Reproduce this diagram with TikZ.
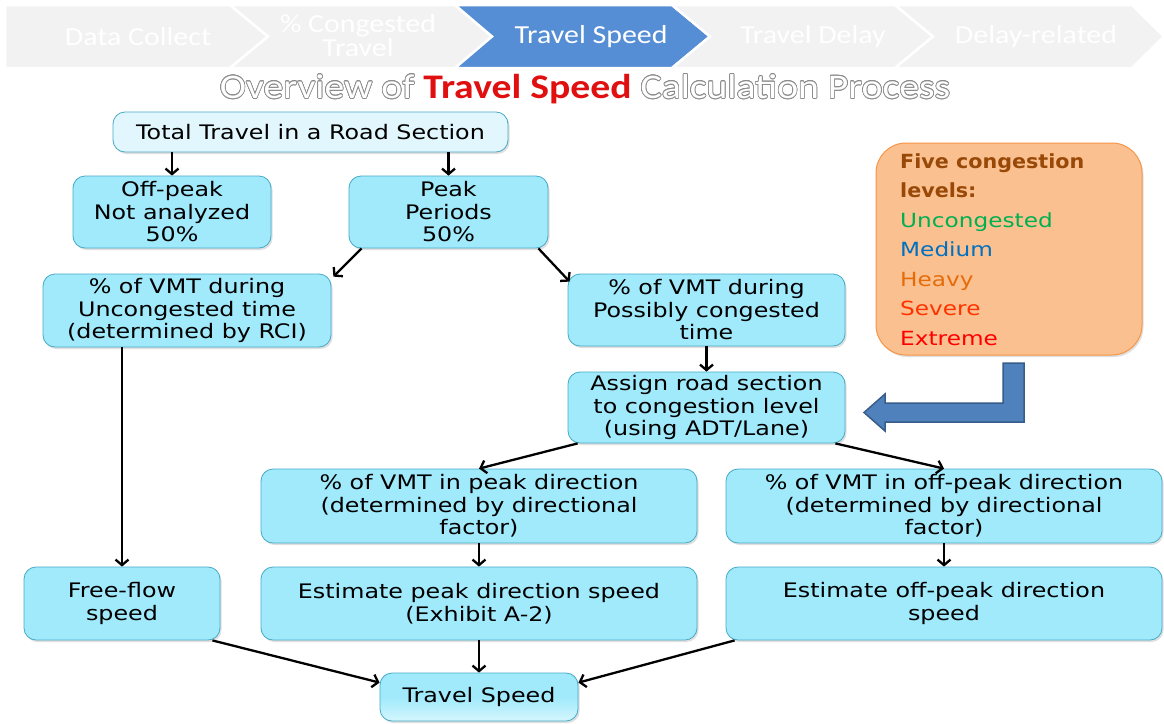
\documentclass[tikz,border=0pt]{standalone}
\usepackage{fontspec}
\setmainfont[FakeStretch=1.19,BoldFeatures={FakeStretch=1.06}]{DejaVu Sans}
\newfontfamily\carlito[FakeStretch=1.15]{Carlito}
\usepackage{contour}
\contourlength{0.7pt}
\usetikzlibrary{arrows.meta,shadows,positioning,calc}
\definecolor{cyanfill}{HTML}{A0EAFC}
\definecolor{cyanline}{HTML}{46AAC5}
\definecolor{topfill}{HTML}{E2F7FD}
\definecolor{orfill}{HTML}{FAC090}
\definecolor{orline}{HTML}{F79646}
\definecolor{bannergrey}{HTML}{F2F2F2}
\definecolor{bannerblue}{HTML}{558ED5}
\definecolor{blockblue}{HTML}{4F81BD}
\definecolor{blockline}{HTML}{385D8A}
\definecolor{brownt}{HTML}{984807}
\definecolor{greent}{HTML}{00B050}
\definecolor{bluet}{HTML}{0070C0}
\definecolor{oranget}{HTML}{E46C0A}
\definecolor{severet}{HTML}{FF3300}
\definecolor{redt}{HTML}{FF0000}
\definecolor{titlered}{HTML}{E01010}
\definecolor{outlinegrey}{HTML}{8C8C8C}
\newcommand{\outlinetext}[1]{\contour{outlinegrey}{\textcolor{white}{#1}}}
\tikzset{
  box/.style={draw=cyanline, line width=0.8pt, fill=cyanfill, rounded corners=12pt,
    align=center, inner sep=0pt, font=\fontsize{20}{22.5}\selectfont,
    drop shadow={shadow xshift=1.5pt, shadow yshift=-2pt, opacity=0.25}},
  conn/.style={line width=2.3pt, -{Straight Barb[length=5.5pt,width=13pt,line width=2.3pt]}},
  chev/.style={fill=bannergrey, draw=white, line width=2.5pt},
  chevtxt/.style={text=white, font=\carlito\fontsize{26}{24}\selectfont, align=center}
}
\begin{document}
\begin{tikzpicture}[x=1pt,y=-1pt]
\useasboundingbox (0,0) rectangle (1164,723);
% banner
\fill[white] (0,0) rectangle (1164,723);
\draw[chev] (5,5) -- (230,5) -- (268,36.5) -- (230,68) -- (5,68) -- cycle;
\draw[chev] (230,5) -- (455,5) -- (492,36.5) -- (455,68) -- (230,68) -- (268,36.5) -- cycle;
\draw[chev, fill=bannerblue] (455,5) -- (672,5) -- (710,36.5) -- (672,68) -- (455,68) -- (492,36.5) -- cycle;
\draw[chev] (672,5) -- (895,5) -- (933,36.5) -- (895,68) -- (672,68) -- (710,36.5) -- cycle;
\draw[chev] (895,5) -- (1132,5) -- (1164,36.5) -- (1132,68) -- (895,68) -- (933,36.5) -- cycle;
\node[chevtxt] (b1) at (138,37) {Data Collect};
\node[chevtxt] (b2) at (358,36) {\% Congested\\Travel};
\node[chevtxt] (b3) at (591,37) {Travel Speed};
\node[chevtxt] (b4) at (813,37) {Travel Delay};
\node[chevtxt] (b5) at (1036,37) {Delay-related};
% title
\node[font=\carlito\fontsize{34.5}{34}\selectfont] (title) at (585,89)
  {\outlinetext{Overview of} \textcolor{titlered}{\bfseries Travel Speed} \outlinetext{Calculation Process}};
% nodes
\node[box, fill=topfill, minimum width=395pt, minimum height=40pt] (total) at (310.5,132) {Total Travel in a Road Section};
\node[box, minimum width=198pt, minimum height=72pt] (offpeak) at (172,212) {Off-peak\\Not analyzed\\50\%};
\node[box, minimum width=199pt, minimum height=72pt] (peak) at (448.5,212) {Peak\\Periods\\50\%};
\node[box, minimum width=288pt, minimum height=73pt] (vmtu) at (187,310.5) {\% of VMT during\\Uncongested time\\(determined by RCI)};
\node[box, minimum width=277pt, minimum height=72pt] (vmtp) at (706.5,310) {\% of VMT during\\Possibly congested\\time};
\node[box, minimum width=277pt, minimum height=71pt] (assign) at (706.5,407.5) {Assign road section\\to congestion level\\(using ADT/Lane)};
\node[box, minimum width=436pt, minimum height=74pt] (pdir) at (479,506) {\% of VMT in peak direction\\(determined by directional\\factor)};
\node[box, minimum width=436pt, minimum height=74pt] (odir) at (944,506) {\% of VMT in off-peak direction\\(determined by directional\\factor)};
\node[box, minimum width=196pt, minimum height=73pt] (free) at (122,603.5) {Free-flow\\speed};
\node[box, minimum width=436pt, minimum height=73pt] (epk) at (479,603.5) {Estimate peak direction speed\\(Exhibit A-2)};
\node[box, minimum width=436pt, minimum height=73pt] (eop) at (944,603.5) {Estimate off-peak direction\\speed};
\node[box, top color=cyanfill, bottom color=white!55!cyanfill, middle color=cyanfill, minimum width=198pt, minimum height=48pt] (ts) at (479,697) {Travel Speed};
% orange box
\node[draw=orline, line width=1pt, fill=orfill, rounded corners=30pt, minimum width=266pt, minimum height=212pt,
  drop shadow={shadow xshift=1.5pt, shadow yshift=-2pt, opacity=0.25}] (levels) at (1009,249) {};
\node[anchor=north west, align=left, inner sep=0pt, font=\fontsize{19.5}{29.5}\selectfont] (lvtxt) at (900,153)
  {\textcolor{brownt}{\bfseries Five congestion}\\\textcolor{brownt}{\bfseries levels:}\\\textcolor{greent}{Uncongested}\\\textcolor{bluet}{Medium}\\\textcolor{oranget}{Heavy}\\\textcolor{severet}{Severe}\\\textcolor{redt}{Extreme}};
% block arrow
\draw[fill=blockblue, draw=blockline, line width=1.5pt, line join=miter]
  (1003,363) -- (1024,363) -- (1024,422) -- (885,422) -- (885,431) -- (864,412.5) -- (885,394) -- (885,403) -- (1003,403) -- cycle;
% connectors
\draw[conn] (total.south -| offpeak.north) -- (offpeak.north);
\draw[conn] (total.south -| peak.north) -- (peak.north);
\draw[conn] ([xshift=13pt]peak.south west) -- ([xshift=2pt,yshift=-3pt]vmtu.north east);
\draw[conn] ([xshift=-10pt]peak.south east) -- ([xshift=2pt,yshift=-8pt]vmtp.north west);
\draw[conn] (vmtu.south -| free.north) -- (free.north);
\draw[conn] (vmtp.south) -- (assign.south |- assign.north);
\draw[conn] ([xshift=10pt]assign.south west) -- (pdir.north);
\draw[conn] ([xshift=-10pt]assign.south east) -- (odir.north);
\draw[conn] (pdir.south) -- (epk.north);
\draw[conn] (odir.south) -- (eop.north);
\draw[conn] (epk.south) -- (ts.north);
\draw[conn] ([xshift=-8pt]free.south east) -- ([yshift=-10pt]ts.north west);
\draw[conn] ([xshift=9pt]eop.south west) -- ([yshift=-10pt]ts.north east);
\end{tikzpicture}
\end{document}
